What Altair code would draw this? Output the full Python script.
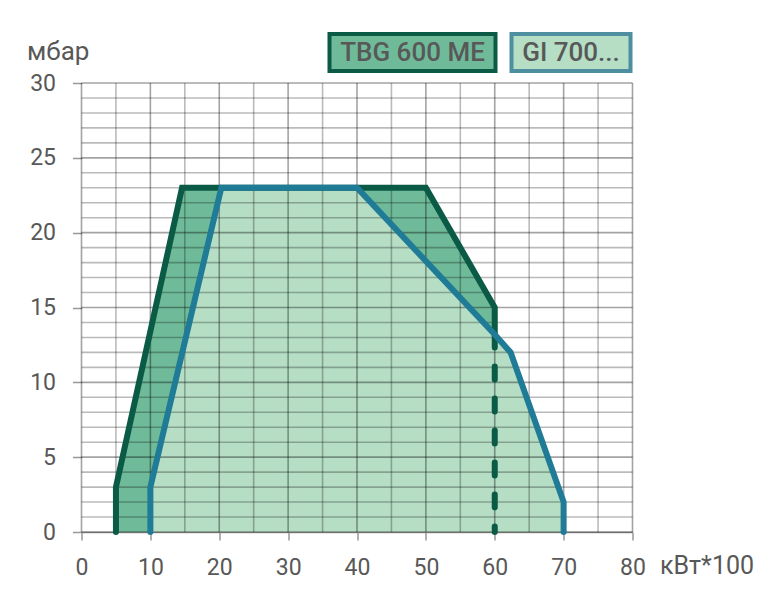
import altair as alt
import pandas as pd

# ---- data ----
series = ["TBG 600 ME", "GI 700..."]
tbg_x = [5, 5, 14.6, 50, 60, 60]
tbg_y = [0, 3, 23, 23, 15, 13.2]
tbg_dash_x = [60, 60]
tbg_dash_y = [13.2, 0]
gi_x = [10, 10, 20.3, 40, 60, 62.3, 70, 70]
gi_y = [0, 3, 23, 23, 13.2, 12, 2, 0]
x_ticks = list(range(0, 81, 10))
y_ticks = list(range(0, 31, 5))
grid_x = list(range(0, 81, 5))
grid_y = list(range(0, 31, 1))
x_title = "кВт*100"
y_title = "мбар"

FONT = "Roboto, sans-serif"
TXT = "#585858"
DARK = "#0b5a46"
BLUE = "#1f7b96"
FILL_TBG = "#6fbb99"
FILL_GI = "#b5dec5"

xs = alt.Scale(domain=[0, 80], nice=False, zero=True)
ys = alt.Scale(domain=[0, 30], nice=False, zero=True)
xaxis = alt.Axis(values=x_ticks, grid=False, tickSize=8, labelPadding=16, tickColor="#999",
                 tickWidth=1.5, domainColor="#999", domainWidth=1.5, labelFont=FONT,
                 labelFontSize=23, labelColor=TXT, labelFlush=False, title=x_title,
                 titleFont=FONT, titleFontSize=25, titleFontWeight="normal", titleColor=TXT,
                 titleAngle=0, titleAlign="left", titleBaseline="middle", titleX=578, titleY=33)
yaxis = alt.Axis(values=y_ticks, grid=False, tickSize=9, labelPadding=17, tickColor="#999",
                 tickWidth=1.5, domain=False, labelFont=FONT, labelFontSize=23,
                 labelColor=TXT, labelFlush=False, title=y_title, titleFont=FONT,
                 titleFontSize=26, titleFontWeight="normal", titleColor=TXT, titleAngle=0,
                 titleAlign="left", titleBaseline="alphabetic", titleX=-55, titleY=-24)

def X(f="x"):
    return alt.X(f"{f}:Q", scale=xs, axis=xaxis)

def Y(f="y"):
    return alt.Y(f"{f}:Q", scale=ys, axis=yaxis)

tbg = pd.DataFrame({"x": tbg_x, "y": tbg_y, "i": range(len(tbg_x))})
tbg_d = pd.DataFrame({"x": tbg_dash_x, "y": tbg_dash_y, "i": range(len(tbg_dash_x))})
gi = pd.DataFrame({"x": gi_x, "y": gi_y, "i": range(len(gi_x))})

area_tbg = alt.Chart(tbg.iloc[1:5]).mark_area(color=FILL_TBG, opacity=1).encode(x=X(), y=Y())
area_gi = alt.Chart(gi.iloc[1:7]).mark_area(color=FILL_GI, opacity=1).encode(x=X(), y=Y())

gx = pd.DataFrame({"x": grid_x, "major": [v % 10 == 0 for v in grid_x]})
gy = pd.DataFrame({"y": grid_y, "major": [v % 5 == 0 for v in grid_y]})
grid_v = alt.Chart(gx).mark_rule(color="#000", strokeWidth=1.6).encode(
    x=X(),
    strokeOpacity=alt.condition("datum.major", alt.value(0.36), alt.value(0.27)),
)
grid_h = alt.Chart(gy).mark_rule(color="#000", strokeWidth=1.6).encode(
    y=Y(),
    strokeOpacity=alt.condition("datum.major", alt.value(0.36), alt.value(0.27)),
)

line_tbg = alt.Chart(tbg).mark_line(color=DARK, strokeWidth=6, strokeCap="round",
                                    strokeJoin="miter").encode(x=X(), y=Y(), order="i:Q")
line_tbg_d = alt.Chart(tbg_d).mark_line(color=DARK, strokeWidth=6, strokeCap="round",
                                        strokeDash=[13, 19]).encode(x=X(), y=Y(), order="i:Q")
line_gi = alt.Chart(gi).mark_line(color=BLUE, strokeWidth=6, strokeCap="round",
                                  strokeJoin="miter").encode(x=X(), y=Y(), order="i:Q")

one = pd.DataFrame({"a": [0]})
leg1 = alt.Chart(one).mark_rect(fill=FILL_TBG, stroke=DARK, strokeWidth=4).encode(
    x=alt.value(248), x2=alt.value(414), y=alt.value(-49), y2=alt.value(-12))
leg2 = alt.Chart(one).mark_rect(fill=FILL_GI, stroke="#4d8fa0", strokeWidth=4).encode(
    x=alt.value(430), x2=alt.value(549), y=alt.value(-49), y2=alt.value(-12))
legt1 = alt.Chart(one).mark_text(text=series[0], font=FONT, fontSize=26, fontWeight=500,
                                 color=TXT, align="center", baseline="middle").encode(
    x=alt.value(331), y=alt.value(-30))
legt2 = alt.Chart(one).mark_text(text=series[1], font=FONT, fontSize=26, fontWeight=500,
                                 color=TXT, align="center", baseline="middle").encode(
    x=alt.value(489.5), y=alt.value(-30))

chart = alt.layer(area_tbg, area_gi, grid_v, grid_h, line_tbg, line_tbg_d, line_gi,
                  leg1, leg2, legt1, legt2).properties(
    width=551, height=449,
    autosize=alt.AutoSizeParams(type="none"),
    padding={"left": 73.5, "top": 75, "right": 135, "bottom": 60},
).configure_view(stroke=None)

chart.save("out.html", embed_options={"renderer": "svg", "actions": False})
